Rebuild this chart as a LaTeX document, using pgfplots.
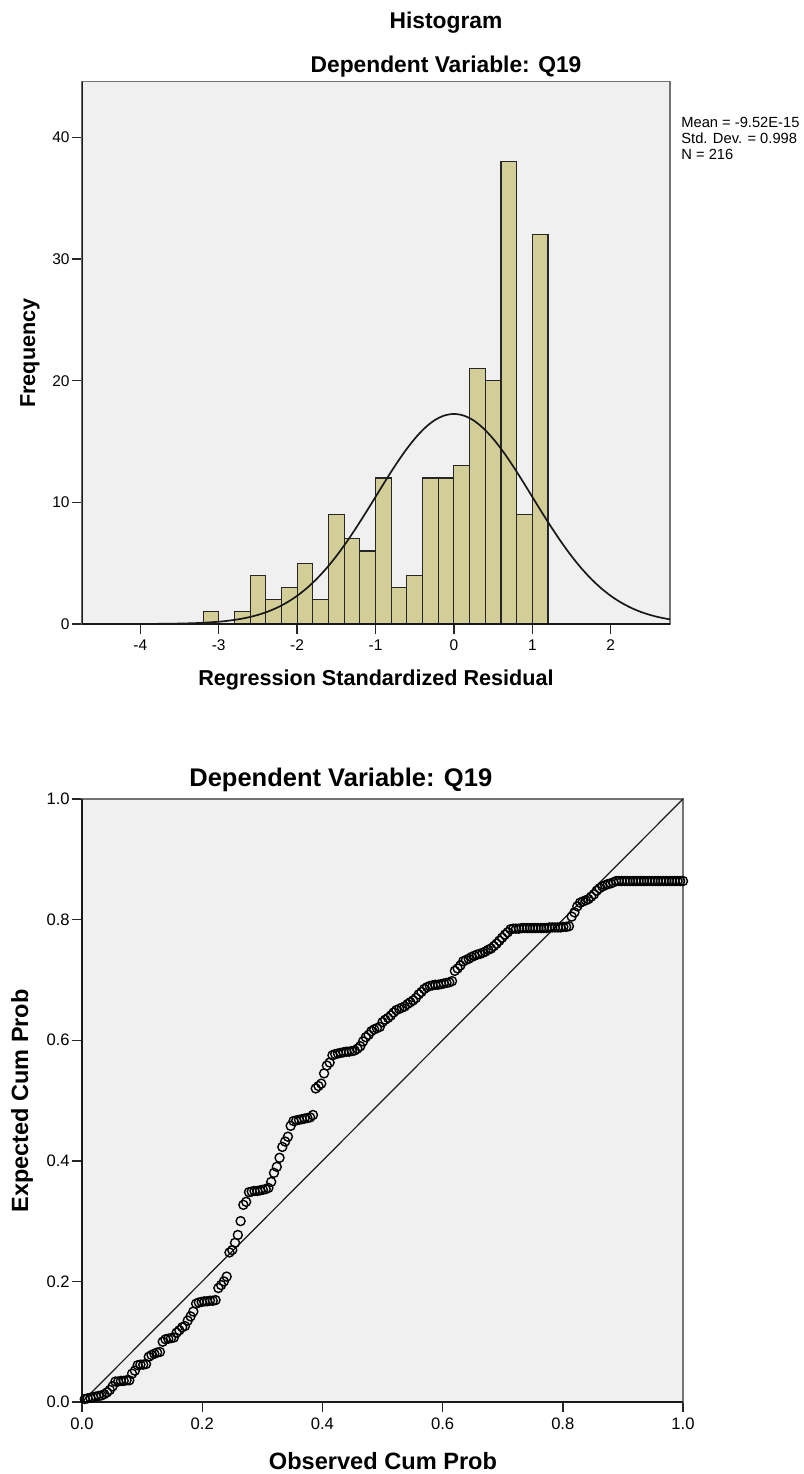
\documentclass[border=0pt]{standalone}
\usepackage{fontspec}
\setmainfont{Liberation Sans}
\usepackage{pgfplots}
\pgfplotsset{compat=1.18}
\definecolor{panel}{RGB}{240,240,240}
\definecolor{barfill}{RGB}{211,206,151}
\newcommand\fs[2]{\fontsize{#1}{#2}\selectfont}

\pgfplotsset{
  spssframe/.style={
    scale only axis,
    axis background/.style={fill=panel},
    axis line style={draw=black!55, line width=0.7pt},
    tick align=outside,
    major tick length=5pt,
    tick style={black!85, line width=0.7pt},
    xtick pos=bottom, ytick pos=left,
    yticklabel style={anchor=east, inner sep=0pt, xshift=-1pt},
    xticklabel style={anchor=north, inner sep=0pt, yshift=-2.5pt},
  }
}

\begin{document}
\begin{tikzpicture}[x=1pt,y=1pt]
\useasboundingbox (0,0) rectangle (402,-737);

% ---------- histogram of standardized residuals ----------
\node[anchor=base, inner sep=0, font=\fs{11.4pt}{13pt}\bfseries] at (223,-14.25) {Histogram};
\node[anchor=base, inner sep=0, font=\fs{11.4pt}{13pt}\bfseries] at (223,-36.25) {Dependent Variable: Q19};
\node[anchor=base west, inner sep=0, font=\fs{7.35pt}{8pt}] at (340.5,-63.6) {Mean = -9.52E-15};
\node[anchor=base west, inner sep=0, font=\fs{7.35pt}{8pt}] at (340.5,-71.6) {Std. Dev. = 0.998};
\node[anchor=base west, inner sep=0, font=\fs{7.35pt}{8pt}] at (340.5,-79.6) {N = 216};

\begin{axis}[spssframe,
  at={(41pt,-312pt)}, anchor=south west,
  width=294pt, height=271.25pt,
  xmin=-4.744, xmax=2.756, ymin=0, ymax=44.6,
  xtick={-4,-3,-2,-1,0,1,2},
  xticklabels={-4,-3,-2,-1,0,1,2},
  ytick={0,10,20,30,40},
  yticklabels={0,10,20,30,40},
  ticklabel style={font=\fs{7.75pt}{9pt}},
]
\addplot[ybar interval, fill=barfill, draw=black!85, line width=0.55pt] coordinates {
  (-3.2,1) (-3.0,0) (-2.8,1) (-2.6,4) (-2.4,2) (-2.2,3) (-2.0,5) (-1.8,2)
  (-1.6,9) (-1.4,7) (-1.2,6) (-1.0,12) (-0.8,3) (-0.6,4) (-0.4,12) (-0.2,12)
  (0.0,13) (0.2,21) (0.4,20) (0.6,38) (0.8,9) (1.0,32) (1.2,32)
};
\addplot[smooth, black!90, line width=0.85pt] coordinates {
  (-4.744,0.0002) (-4.5,0.0007) (-4.25,0.002) (-4.0,0.0056) (-3.75,0.0149)
  (-3.5,0.037) (-3.25,0.086) (-3.0,0.188) (-2.875,0.2725) (-2.75,0.388)
  (-2.625,0.5433) (-2.5,0.750) (-2.375,1.018) (-2.25,1.360) (-2.125,1.790)
  (-2.0,2.319) (-1.875,2.957) (-1.75,3.713) (-1.625,4.587) (-1.5,5.582)
  (-1.375,6.685) (-1.25,7.882) (-1.125,9.148) (-1.0,10.45) (-0.875,11.759)
  (-0.75,13.02) (-0.625,14.195) (-0.5,15.23) (-0.375,16.093) (-0.25,16.74)
  (-0.125,17.135) (0,17.27) (0.125,17.135) (0.25,16.74) (0.375,16.093)
  (0.5,15.23) (0.625,14.195) (0.75,13.02) (0.875,11.759) (1.0,10.45)
  (1.125,9.148) (1.25,7.882) (1.375,6.685) (1.5,5.582) (1.625,4.587)
  (1.75,3.713) (1.875,2.957) (2.0,2.319) (2.125,1.790) (2.25,1.360)
  (2.375,1.018) (2.5,0.750) (2.625,0.5433) (2.756,0.381)
};
\draw[black!90, line width=0.75pt] (rel axis cs:0,1) -- (rel axis cs:0,0) -- (rel axis cs:1,0);
\end{axis}
\node[anchor=base, inner sep=0, font=\fs{10.8pt}{12pt}\bfseries] at (188,-342.5) {Regression Standardized Residual};
\node[anchor=base, rotate=90, inner sep=0, font=\fs{10.8pt}{12pt}\bfseries] at (17.5,-176.5) {Frequency};

% ---------- normal P-P plot ----------
\node[anchor=base west, inner sep=0, font=\fs{12.75pt}{14pt}\bfseries] at (94.5,-393.3) {Dependent Variable: Q19};

\begin{axis}[spssframe,
  at={(41pt,-701pt)}, anchor=south west,
  width=300.5pt, height=301.5pt,
  xmin=0, xmax=1, ymin=0, ymax=1,
  clip=false,
  xtick={0,0.2,0.4,0.6,0.8,1},
  xticklabels={0.0,0.2,0.4,0.6,0.8,1.0},
  ytick={0,0.2,0.4,0.6,0.8,1},
  yticklabels={0.0,0.2,0.4,0.6,0.8,1.0},
  ticklabel style={font=\fs{8.3pt}{10pt}},
]
\addplot[black!90, line width=0.6pt] coordinates {(0,0) (1,1)};
\addplot[only marks, mark=o, mark size=2.25pt, black, mark options={line width=0.7pt}] coordinates {
(.0046,.005) (.0093,.006) (.0139,.007) (.0185,.008) (.0231,.009) (.0278,.010)
(.0324,.011) (.0370,.013) (.0417,.016) (.0463,.020) (.0509,.026) (.0556,.034)
(.0602,.034) (.0648,.035) (.0694,.035) (.0741,.036) (.0787,.036) (.0833,.047)
(.0880,.052) (.0926,.061) (.0972,.062) (.1019,.062) (.1065,.063) (.1111,.075)
(.1157,.078) (.1204,.080) (.1250,.082) (.1296,.083) (.1343,.100) (.1389,.104)
(.1435,.105) (.1481,.106) (.1528,.107) (.1574,.115) (.1620,.119) (.1667,.124)
(.1713,.126) (.1759,.135) (.1806,.142) (.1852,.150) (.1898,.163) (.1944,.165)
(.1991,.166) (.2037,.167) (.2083,.167) (.2130,.168) (.2176,.168) (.2222,.169)
(.2269,.189) (.2315,.194) (.2361,.200) (.2407,.208) (.2454,.248) (.2500,.252)
(.2546,.264) (.2593,.277) (.2639,.300) (.2685,.327) (.2731,.332) (.2778,.348)
(.2824,.349) (.2870,.350) (.2917,.350) (.2963,.351) (.3009,.352) (.3056,.353)
(.3102,.355) (.3148,.365) (.3194,.380) (.3241,.390) (.3287,.405) (.3333,.423)
(.3380,.432) (.3426,.440) (.3472,.458) (.3519,.466) (.3565,.467) (.3611,.468)
(.3657,.469) (.3704,.470) (.3750,.471) (.3796,.472) (.3843,.476) (.3889,.520)
(.3935,.524) (.3981,.528) (.4028,.545) (.4074,.558) (.4120,.563) (.4167,.575)
(.4213,.577) (.4259,.578) (.4306,.579) (.4352,.580) (.4398,.581) (.4444,.581)
(.4491,.582) (.4537,.583) (.4583,.586) (.4630,.590) (.4676,.598) (.4722,.605)
(.4769,.609) (.4815,.615) (.4861,.618) (.4907,.620) (.4954,.622) (.5000,.630)
(.5046,.634) (.5093,.637) (.5139,.641) (.5185,.646) (.5231,.650) (.5278,.652)
(.5324,.654) (.5370,.656) (.5417,.660) (.5463,.663) (.5509,.666) (.5556,.670)
(.5602,.676) (.5648,.680) (.5694,.685) (.5741,.688) (.5787,.690) (.5833,.691)
(.5880,.692) (.5926,.692) (.5972,.693) (.6019,.694) (.6065,.695) (.6111,.696)
(.6157,.698) (.6204,.715) (.6250,.719) (.6296,.724) (.6343,.731) (.6389,.733)
(.6435,.735) (.6481,.738) (.6528,.740) (.6574,.742) (.6620,.743) (.6667,.745)
(.6713,.747) (.6759,.750) (.6806,.752) (.6852,.756) (.6898,.760) (.6944,.765)
(.6991,.770) (.7037,.775) (.7083,.779) (.7130,.784) (.7176,.785) (.7222,.785)
(.7269,.785) (.7315,.786) (.7361,.786) (.7407,.786) (.7454,.786) (.7500,.786)
(.7546,.786) (.7593,.786) (.7639,.786) (.7685,.786) (.7731,.786) (.7778,.787)
(.7824,.787) (.7870,.787) (.7917,.787) (.7963,.787) (.8009,.788) (.8056,.788)
(.8102,.789) (.8148,.805) (.8194,.812) (.8241,.822) (.8287,.828) (.8333,.830)
(.8380,.832) (.8426,.834) (.8472,.838) (.8519,.842) (.8565,.848) (.8611,.852)
(.8657,.855) (.8704,.857) (.8750,.859) (.8796,.860) (.8843,.862) (.8889,.864)
(.8935,.864) (.8981,.864) (.9028,.864) (.9074,.864) (.9120,.864) (.9167,.864)
(.9213,.864) (.9259,.864) (.9306,.864) (.9352,.864) (.9398,.864) (.9444,.864)
(.9491,.864) (.9537,.864) (.9583,.864) (.9630,.864) (.9676,.864) (.9722,.864)
(.9769,.864) (.9815,.864) (.9861,.864) (.9907,.864) (.9954,.864) (1.0000,.864)
};
\draw[black!90, line width=0.75pt] (rel axis cs:0,1) -- (rel axis cs:0,0) -- (rel axis cs:1,0);
\end{axis}
\node[anchor=base, inner sep=0, font=\fs{11.8pt}{13pt}\bfseries] at (191.5,-734.5) {Observed Cum Prob};
\node[anchor=base, rotate=90, inner sep=0, font=\fs{11.75pt}{13pt}\bfseries] at (14,-550.5) {Expected Cum Prob};
\end{tikzpicture}
\end{document}
